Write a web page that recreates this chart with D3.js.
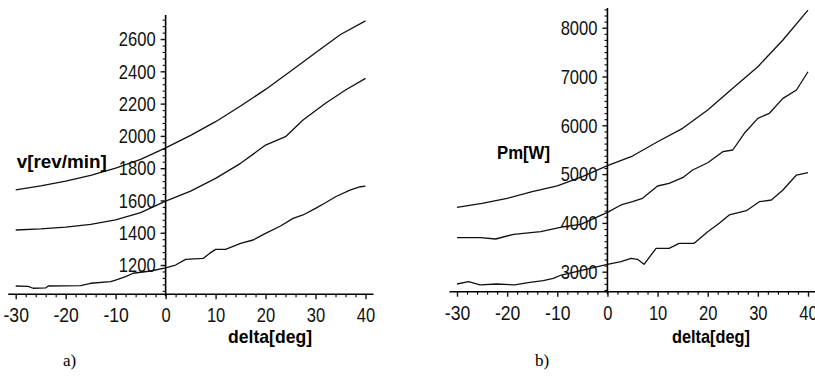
<!DOCTYPE html>
<html>
<head>
<meta charset="utf-8">
<script src="https://cdn.jsdelivr.net/npm/d3@7"></script>
<style>
  html, body { margin: 0; padding: 0; background: #fff; }
  svg { display: block; }
</style>
</head>
<body>
<svg id="chart" width="815" height="376"></svg>
<script>
// ---------- data (a): speed v[rev/min] vs delta[deg] ----------
const vTopX = [-30, -25, -20, -15, -10, -5, 0, 5, 10, 15, 20, 25, 30, 35, 40];
const vTopY = [1665, 1690, 1720, 1755, 1800, 1855, 1926, 2003, 2088, 2185, 2288, 2400, 2515, 2628, 2713];
const vMidX = [-30, -25, -20, -15, -10, -5, 0, 5, 10, 15, 20, 24, 27.5, 32, 36, 40];
const vMidY = [1417, 1424, 1435, 1452, 1480, 1525, 1596, 1658, 1737, 1830, 1943, 1995, 2098, 2202, 2284, 2356];
const vBotX = [-30, -27.5, -26.5, -24, -23.5, -17, -15, -11, -10, -8, -6.5, -3, 0, 2, 4, 7.5, 8.8, 10, 12, 15, 17.5, 20, 23, 25.5, 27.5, 30, 32, 34, 37, 39, 40];
const vBotY = [1070, 1068, 1056, 1058, 1070, 1072, 1087, 1097, 1107, 1128, 1149, 1163, 1183, 1200, 1235, 1241, 1272, 1297, 1297, 1334, 1355, 1396, 1442, 1489, 1510, 1551, 1586, 1623, 1665, 1685, 1689];
const vTicks = [1200, 1400, 1600, 1800, 2000, 2200, 2400, 2600];

// ---------- data (b): power Pm[W] vs delta[deg] ----------
const pTopX = [-30, -25, -20, -15, -10, -5, 0, 5, 10, 15, 20, 25, 30, 35, 40];
const pTopY = [4320, 4400, 4504, 4640, 4760, 4950, 5172, 5370, 5664, 5938, 6313, 6758, 7201, 7748, 8362];
const pMidX = [-30, -25.3, -22.3, -18.7, -13.3, -8.7, -5.3, 0, 2.7, 5, 7, 10, 12.3, 15, 17, 20, 23, 25, 27.3, 30, 32.3, 35, 37.7, 40];
const pMidY = [3697, 3697, 3670, 3766, 3820, 3922, 3971, 4217, 4367, 4434, 4504, 4756, 4811, 4926, 5084, 5233, 5459, 5494, 5836, 6143, 6246, 6553, 6723, 7098];
const pBotX = [-30, -27.7, -25.4, -22.1, -18.5, -15.8, -12.8, -10.8, -9.2, 0, 2.7, 4.7, 6, 7.3, 9.7, 12.3, 14.3, 17.3, 20, 22.3, 24.3, 27.7, 30.3, 32.7, 35, 37.7, 40];
const pBotY = [2748, 2796, 2728, 2748, 2728, 2775, 2816, 2865, 2932, 3152, 3205, 3275, 3254, 3152, 3479, 3479, 3582, 3582, 3820, 3992, 4162, 4250, 4434, 4469, 4674, 4981, 5028];
const pTicks = [3000, 4000, 5000, 6000, 7000, 8000];

const xTicks = [-30, -20, -10, 0, 10, 20, 30, 40];

const svg = d3.select("#chart");
const FONT = "'Liberation Sans', Arial, sans-serif";

function digitsWidth(s) {
  let w = 0;
  for (const c of s) w += (c === "-") ? 7 : 9.2;
  return w;
}

function panel(cfg) {
  const g = svg.append("g");
  const x = d3.scaleLinear().domain([-30, 40]).range(cfg.xRange);
  const y = d3.scaleLinear().domain(cfg.yDomain).range(cfg.yRange);
  const yAxisX = x(0);
  const xAxisY = cfg.yRange[0];

  // minor x ticks
  const xMinor = d3.range(-30, 41, 2).filter(v => v % 10 !== 0);
  g.append("g").attr("transform", `translate(0,${xAxisY})`)
    .call(d3.axisBottom(x).tickValues(xMinor).tickSize(3).tickSizeOuter(0).tickFormat(""))
    .call(a => a.select(".domain").remove())
    .selectAll("line").attr("stroke", "#111").attr("stroke-width", 1.2);

  // major x ticks
  const xa = g.append("g").attr("transform", `translate(0,${xAxisY})`)
    .call(d3.axisBottom(x).tickValues(xTicks).tickSize(5).tickPadding(8).tickSizeOuter(0).tickFormat(d => String(d)));
  xa.select(".domain").remove();
  xa.selectAll("line").attr("stroke", "#111").attr("stroke-width", 1.4);
  xa.selectAll("text")
    .attr("font-family", FONT).attr("font-size", 21).attr("fill", "#111")
    .attr("textLength", d => digitsWidth(String(d)))
    .attr("lengthAdjust", "spacingAndGlyphs");

  // minor y ticks
  const yMinor = d3.range(cfg.minorStart, cfg.yDomain[1], cfg.minorStep).filter(v => !cfg.yTicks.includes(v));
  g.append("g").attr("transform", `translate(${yAxisX},0)`)
    .call(d3.axisLeft(y).tickValues(yMinor).tickSize(3).tickSizeOuter(0).tickFormat(""))
    .call(a => a.select(".domain").remove())
    .selectAll("line").attr("stroke", "#111").attr("stroke-width", 1.1);

  // major y ticks
  const ya = g.append("g").attr("transform", `translate(${yAxisX},0)`)
    .call(d3.axisLeft(y).tickValues(cfg.yTicks).tickSize(5).tickPadding(5).tickSizeOuter(0).tickFormat(d => String(d)));
  ya.select(".domain").remove();
  ya.selectAll("line").attr("stroke", "#111").attr("stroke-width", 1.4);
  ya.selectAll("text")
    .attr("font-family", FONT).attr("font-size", 21).attr("fill", "#111")
    .attr("textLength", d => digitsWidth(String(d)))
    .attr("lengthAdjust", "spacingAndGlyphs");

  // axis lines
  g.append("line")
    .attr("x1", x(-31.5)).attr("x2", x(41.6))
    .attr("y1", xAxisY).attr("y2", xAxisY)
    .attr("stroke", "#000").attr("stroke-width", 1.6);
  g.append("line")
    .attr("x1", yAxisX).attr("x2", yAxisX)
    .attr("y1", cfg.yRange[1]).attr("y2", xAxisY + 2)
    .attr("stroke", "#000").attr("stroke-width", 1.6);

  // curves
  const line = d3.line().x(d => x(d[0])).y(d => y(d[1]));
  cfg.series.forEach(s => {
    const pts = s[0].map((v, i) => [v, s[1][i]]);
    g.append("path").datum(pts)
      .attr("d", line)
      .attr("fill", "none")
      .attr("stroke", "#111")
      .attr("stroke-width", 1.3)
      .attr("stroke-linejoin", "round");
  });

  // labels
  g.append("text").text(cfg.yLabel)
    .attr("x", cfg.yLabelPos[0]).attr("y", cfg.yLabelPos[1])
    .attr("font-family", FONT).attr("font-weight", "bold").attr("font-size", 19)
    .attr("fill", "#000")
    .attr("textLength", cfg.yLabelW).attr("lengthAdjust", "spacingAndGlyphs");
  g.append("text").text("delta[deg]")
    .attr("x", cfg.xLabelPos[0]).attr("y", cfg.xLabelPos[1])
    .attr("font-family", FONT).attr("font-weight", "bold").attr("font-size", 19)
    .attr("fill", "#000")
    .attr("textLength", cfg.xLabelW).attr("lengthAdjust", "spacingAndGlyphs");
  g.append("text").text(cfg.tag)
    .attr("x", cfg.tagPos[0]).attr("y", cfg.tagPos[1])
    .attr("font-family", "'Liberation Serif', 'Times New Roman', serif").attr("font-size", 17)
    .attr("fill", "#000");
}

panel({
  xRange: [15.7, 365.5],
  yDomain: [1018.6, 2749],
  yRange: [294.3, 15],
  yTicks: vTicks,
  minorStart: 1040,
  minorStep: 40,
  series: [[vTopX, vTopY], [vMidX, vMidY], [vBotX, vBotY]],
  yLabel: "v[rev/min]", yLabelPos: [16.7, 168], yLabelW: 90,
  xLabelPos: [228, 343], xLabelW: 84,
  tag: "a)", tagPos: [63, 366]
});

panel({
  xRange: [457, 808],
  yDomain: [2590, 8404],
  yRange: [291.7, 8],
  yTicks: pTicks,
  minorStart: 2625,
  minorStep: 125,
  series: [[pTopX, pTopY], [pMidX, pMidY], [pBotX, pBotY]],
  yLabel: "Pm[W]", yLabelPos: [497, 159], yLabelW: 53,
  xLabelPos: [672, 343], xLabelW: 78,
  tag: "b)", tagPos: [535, 366]
});
</script>
</body>
</html>
